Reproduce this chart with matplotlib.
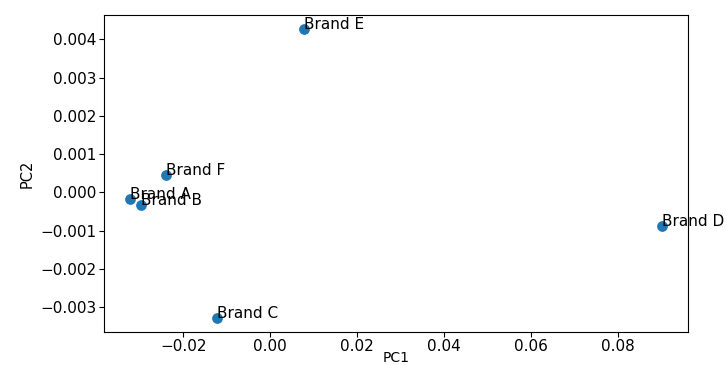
import matplotlib
matplotlib.use('Agg')
import matplotlib.pyplot as plt

# PCA scores
brands = ['Brand A', 'Brand B', 'Brand C', 'Brand D', 'Brand E', 'Brand F']
pc1 = [-0.0322, -0.0297, -0.0122, 0.0901, 0.0078, -0.0241]
pc2 = [-0.00018, -0.00032, -0.00328, -0.00087, 0.00426, 0.00045]

fig = plt.figure(figsize=(7.26, 3.65), dpi=100)
ax = fig.add_axes([0.143, 0.090, 0.805, 0.869])

ax.scatter(pc1, pc2, s=45, color='#1f77b4')
for name, x, y in zip(brands, pc1, pc2):
    ax.text(x, y, name, fontsize=11)

ax.set_xlabel('PC1', fontsize=10)
ax.xaxis.set_label_coords(0.5, -0.058)
ax.set_ylabel('PC2', fontsize=10.5)
ax.tick_params(labelsize=11, pad=1.5)

fig.savefig('out.png', dpi=100)
